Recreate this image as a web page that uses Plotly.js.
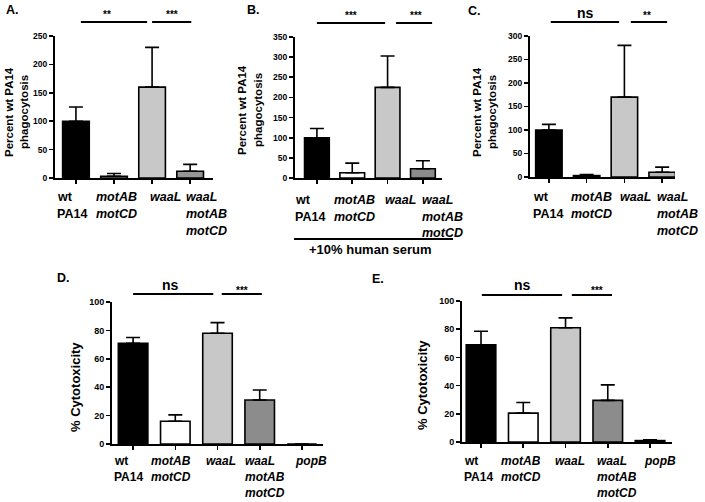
<!DOCTYPE html>
<html>
<head>
<meta charset="utf-8">
<script src="https://cdn.plot.ly/plotly-3.0.1.min.js"></script>
<style>html,body{margin:0;padding:0;background:#fff;}</style>
</head>
<body>
<div id="chart" style="width:705px;height:502px;"></div>
<script>
// ---- data ----
const labelsABC = ["wt<br>PA14", "<i>motAB</i><br><i>motCD</i>", "<i>waaL</i>", "<i>waaL</i><br><i>motAB</i><br><i>motCD</i>"];
const labelsDE = ["wt<br>PA14", "<i>motAB</i><br><i>motCD</i>", "<i>waaL</i>", "<i>waaL</i><br><i>motAB</i><br><i>motCD</i>", "<i>popB</i>"];

const valuesA = [100, 3, 160, 12];
const errorsA = [25, 5, 70, 12];
const valuesB = [100, 13, 225, 23];
const errorsB = [23, 24, 78, 20];
const valuesC = [100, 3, 170, 10];
const errorsC = [12, 2, 110, 11];
const valuesD = [71, 16, 78, 31, 0];
const errorsD = [4, 4.5, 7.5, 7, 0];
const valuesE = [69, 20.5, 81, 29.5, 1];
const errorsE = [9.5, 7.5, 7, 11, 0.5];

const sigA = ["**", "***"];
const sigB = ["***", "***"];
const sigC = ["ns", "**"];
const sigD = ["ns", "***"];
const sigE = ["ns", "***"];

const yTitleABC = ["Percent wt PA14", "phagocytosis"];
const yTitleDE = ["% Cytotoxicity"];
const serumLabel = "+10% human serum";

// ---- layout helpers ----
const W = 705, H = 502;
const FONT = "Liberation Sans, Arial, sans-serif";
const px = x => x / W;
const py = y => 1 - y / H;

const panels = [
  {n: 1, letter: "A.", lp: [4, 10], labels: labelsABC, vals: valuesA, errs: errorsA, sig: sigA,
   colors: ["#000000", "#ffffff", "#c8c8c8", "#969696"],
   xd: [55, 213], yd: [178, 36], yr: [0, 250], dt: 50, xr: [-0.55, 3.6], tf: 8.5,
   shifts: [-21, -20, -4, -6], lineY: [197, 214, 231], lf: 12.5,
   sigLines: [[0.13, 1.87], [2.0, 3.03]], sigY: 22, sigText: [[107, 12], [172, 12]],
   yt: yTitleABC, ytx: [9, 24], yty: 112, ytf: 11.5},
  {n: 2, letter: "B.", lp: [245, 10], labels: labelsABC, vals: valuesB, errs: errorsB, sig: sigB,
   colors: ["#000000", "#ffffff", "#c8c8c8", "#8c8c8c"],
   xd: [295, 442], yd: [178, 37], yr: [0, 350], dt: 50, xr: [-0.62, 3.54], tf: 8.5,
   shifts: [-24, -20, -5, -3], lineY: [200, 217, 233], lf: 12.5,
   sigLines: [[0.0, 1.93], [2.24, 3.26]], sigY: 23, sigText: [[351, 13], [416, 13]],
   yt: yTitleABC, ytx: [242, 258], yty: 110, ytf: 11.5},
  {n: 3, letter: "C.", lp: [466, 11], labels: labelsABC, vals: valuesC, errs: errorsC, sig: sigC,
   colors: ["#000000", "#ffffff", "#c8c8c8", "#b4b4b4"],
   xd: [530, 675], yd: [177, 36], yr: [0, 300], dt: 50, xr: [-0.5, 3.34], tf: 8.5,
   shifts: [-18, -18, -6, -7], lineY: [197, 214, 231], lf: 12.5,
   sigLines: [[0.05, 1.86], [2.17, 3.13]], sigY: 22, sigText: [[585, 13], [647, 13]],
   yt: yTitleABC, ytx: [477, 492], yty: 112, ytf: 11.5},
  {n: 4, letter: "D.", lp: [55, 278], labels: labelsDE, vals: valuesD, errs: errorsD, sig: sigD,
   colors: ["#000000", "#ffffff", "#c8c8c8", "#8c8c8c", "#555555"],
   xd: [112, 323], yd: [444, 302], yr: [0, 100], dt: 20, xr: [-0.5, 4.5], tf: 9,
   shifts: [-21, -26, -14, -17, -9], lineY: [461, 477, 493], lf: 12,
   sigLines: [[0.0, 1.9], [2.1, 3.05]], sigY: 294, sigText: [[170, 285], [242, 287]],
   yt: yTitleDE, ytx: [75], yty: 387, ytf: 13},
  {n: 5, letter: "E.", lp: [370, 279], labels: labelsDE, vals: valuesE, errs: errorsE, sig: sigE,
   colors: ["#000000", "#ffffff", "#c8c8c8", "#8c8c8c", "#555555"],
   xd: [462, 672], yd: [442, 301], yr: [0, 100], dt: 20, xr: [-0.45, 4.52], tf: 9,
   shifts: [-19, -24, -13, -13, -8], lineY: [461, 477, 493], lf: 12,
   sigLines: [[0.02, 1.92], [2.15, 3.1]], sigY: 295, sigText: [[522, 285], [597, 287]],
   yt: yTitleDE, ytx: [422], yty: 385, ytf: 13}
];

const traces = [];
const layout = {
  width: W, height: H,
  margin: {l: 0, r: 0, t: 0, b: 0},
  paper_bgcolor: "#ffffff", plot_bgcolor: "rgba(0,0,0,0)",
  showlegend: false,
  font: {family: FONT, color: "#000", weight: 700},
  annotations: [], shapes: []
};

panels.forEach(p => {
  const xa = "xaxis" + (p.n === 1 ? "" : p.n), ya = "yaxis" + (p.n === 1 ? "" : p.n);
  const xr = "x" + (p.n === 1 ? "" : p.n), yr = "y" + (p.n === 1 ? "" : p.n);
  const xs = p.vals.map((_, i) => i);
  traces.push({
    type: "bar", x: xs, y: p.vals, xaxis: xr, yaxis: yr, width: 0.7,
    marker: {color: p.colors, line: {color: "#000", width: 1.6}},
    error_y: {type: "data", symmetric: false, array: p.errs, arrayminus: p.errs.map(() => 0),
              color: "#000", thickness: 1.6, width: 7},
    hoverinfo: "none"
  });
  layout[xa] = {
    domain: [px(p.xd[0]), px(p.xd[1])], range: p.xr, anchor: yr,
    showline: true, linewidth: 2, linecolor: "#000", showgrid: false, zeroline: false,
    ticks: "outside", ticklen: 4, tickwidth: 1.6, tickcolor: "#000",
    tickvals: xs, showticklabels: false, fixedrange: true
  };
  layout[ya] = {
    domain: [py(p.yd[0]), py(p.yd[1])], range: p.yr, anchor: xr,
    showline: true, linewidth: 2, linecolor: "#000", showgrid: false, zeroline: false,
    ticks: "outside", ticklen: 4, tickwidth: 1.6, tickcolor: "#000", dtick: p.dt,
    tickfont: {family: FONT, size: p.tf, color: "#000", weight: 700}, fixedrange: true
  };
  // panel letter
  layout.annotations.push({xref: "paper", yref: "paper", x: px(p.lp[0]), y: py(p.lp[1]),
    xanchor: "left", yanchor: "middle", showarrow: false, text: p.letter,
    font: {family: FONT, size: 12.5, weight: 700}});
  // category labels (one annotation per line)
  p.labels.forEach((lab, i) => {
    lab.split("<br>").forEach((line, k) => {
      layout.annotations.push({xref: xr, yref: "paper", x: i, xshift: p.shifts[i],
        y: py(p.lineY[k]), xanchor: "left", yanchor: "middle", showarrow: false,
        text: line, font: {family: FONT, size: p.lf, weight: 700}});
    });
  });
  // y-axis title
  p.yt.forEach((t, k) => {
    layout.annotations.push({xref: "paper", yref: "paper", x: px(p.ytx[k]), y: py(p.yty),
      xanchor: "center", yanchor: "middle", showarrow: false, textangle: -90,
      text: t, font: {family: FONT, size: p.ytf, weight: 700}});
  });
  // significance bars
  p.sigLines.forEach((s, k) => {
    layout.shapes.push({type: "line", xref: xr, yref: "paper", x0: s[0], x1: s[1],
      y0: py(p.sigY), y1: py(p.sigY), line: {color: "#000", width: 2}});
    const isNs = p.sig[k] === "ns";
    layout.annotations.push({xref: "paper", yref: "paper", x: px(p.sigText[k][0]),
      y: py(p.sigText[k][1] + (isNs ? 0 : 3)), xanchor: "center", yanchor: "middle", showarrow: false,
      text: p.sig[k], font: {family: FONT, size: isNs ? 14 : 10, weight: 700}});
  });
});

// serum bracket under panel B
layout.shapes.push({type: "line", xref: "paper", yref: "paper", x0: px(294), x1: px(453),
  y0: py(239), y1: py(239), line: {color: "#000", width: 2}});
layout.annotations.push({xref: "paper", yref: "paper", x: px(370), y: py(249),
  xanchor: "center", yanchor: "middle", showarrow: false, text: serumLabel,
  font: {family: FONT, size: 13, weight: 700}});

Plotly.newPlot("chart", traces, layout, {displayModeBar: false, staticPlot: true});
</script>
</body>
</html>
